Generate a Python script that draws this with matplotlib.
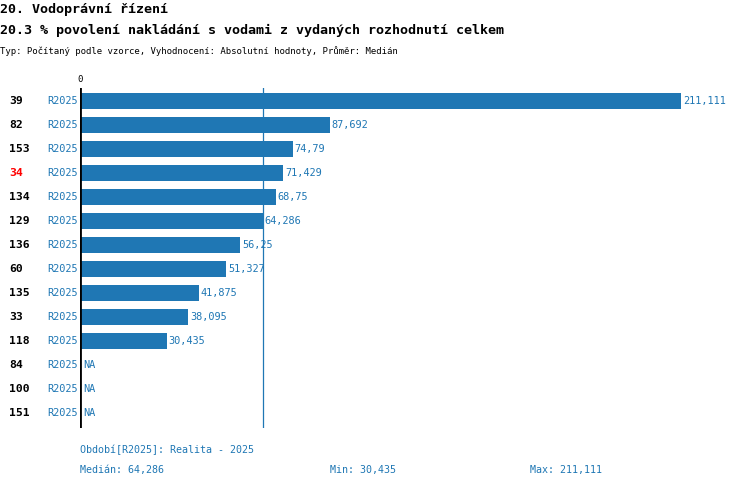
import numpy as np
import matplotlib.pyplot as plt

# Data
ids = ["39", "82", "153", "34", "134", "129", "136", "60", "135", "33", "118", "84", "100", "151"]
values = [211.111, 87.692, 74.79, 71.429, 68.75, 64.286, 56.25, 51.327, 41.875, 38.095, 30.435,
          None, None, None]
labels = ["211,111", "87,692", "74,79", "71,429", "68,75", "64,286", "56,25", "51,327", "41,875",
          "38,095", "30,435", "NA", "NA", "NA"]
highlight = "34"
period = "R2025"
median, vmin, vmax = 64.286, 30.435, 211.111

blue = "#1f77b4"
mono = "DejaVu Sans Mono"
W, H = 750, 488

fig = plt.figure(figsize=(7.5, 4.88), dpi=100)
# axes placed in pixel coords: x 80..730, y 88..428
ax = fig.add_axes([80 / W, 1 - 428 / H, 650 / W, 340 / H])
xmax = vmax * 650 / 601
ax.set_xlim(0, xmax)
ax.set_ylim(13 + 15 / 24, -13 / 24)
ax.axis("off")

for i, (v, lab) in enumerate(zip(values, labels)):
    if v is not None:
        ax.barh(i, v, height=16 / 24, color=blue)
        ax.text(v + 0.6, i, lab, color=blue, fontsize=7.4, family=mono, va="center", ha="left")
    else:
        ax.text(1.0, i, lab, color=blue, fontsize=7.4, family=mono, va="center", ha="left")

ax.axvline(median, color=blue, lw=0.9)
ax.axvline(0, color="black", lw=2)

# row labels
for i, name in enumerate(ids):
    yy = 1 - (101 + 24 * i) / H
    fig.text(9 / W, yy, name, color="red" if name == highlight else "black",
             fontsize=8.2, family=mono, weight="bold", va="center", ha="left")
    fig.text(78 / W, yy, period, color=blue, fontsize=7.4, family=mono, va="center", ha="right")

fig.text(80 / W, 1 - 80 / H, "0", fontsize=6.5, family=mono, va="center", ha="center")

# titles
fig.text(0, 1 - 9 / H, "20. Vodoprávní řízení", fontsize=9.6, family=mono, weight="bold", va="center")
fig.text(0, 1 - 30 / H, "20.3 % povolení nakládání s vodami z vydaných rozhodnutí celkem",
         fontsize=9.6, family=mono, weight="bold", va="center")
fig.text(0, 1 - 51 / H, "Typ: Počítaný podle vzorce, Vyhodnocení: Absolutní hodnoty, Průměr: Medián",
         fontsize=6.5, family=mono, va="center")

# footer
fig.text(80 / W, 1 - 450 / H, "Období[R2025]: Realita - 2025", color=blue, fontsize=7.2, family=mono, va="center")
fig.text(80 / W, 1 - 470 / H, "Medián: 64,286", color=blue, fontsize=7.2, family=mono, va="center")
fig.text(330 / W, 1 - 470 / H, "Min: 30,435", color=blue, fontsize=7.2, family=mono, va="center")
fig.text(530 / W, 1 - 470 / H, "Max: 211,111", color=blue, fontsize=7.2, family=mono, va="center")

fig.savefig("out.png", dpi=100)
